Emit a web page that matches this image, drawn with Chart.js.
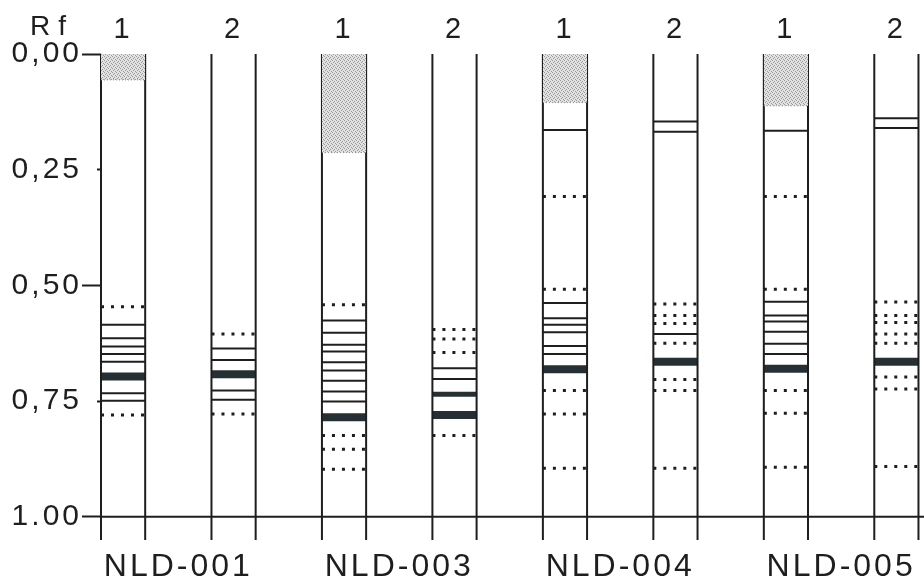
<!DOCTYPE html>
<html>
<head>
<meta charset="utf-8">
<title>TLC Rf</title>
<script src="https://cdn.jsdelivr.net/npm/chart.js@4.4.1/dist/chart.umd.min.js"></script>
<style>
  html, body { margin: 0; padding: 0; background: #fff; }
  canvas { display: block; }
</style>
</head>
<body>
<canvas id="plate-chart" width="924" height="584"></canvas>
<script>
const sampleNames = ["NLD-001", "NLD-003", "NLD-004", "NLD-005"];
const laneLabels = ["1", "2", "1", "2", "1", "2", "1", "2"];
const rfTicks = [0, 0.25, 0.5, 0.75, 1];
const rfTickLabels = ["0,00", "0,25", "0,50", "0,75", "1.00"];

// stippled origin spot, from the start line down to this Rf (null = none)
const spotEnds = [0.056, null, 0.213, null, 0.105, null, 0.112, null];

// bands per lane, by Rf
const thinBands = [
  [0.585, 0.614, 0.632, 0.648, 0.665, 0.733, 0.749],
  [0.636, 0.661, 0.727, 0.747],
  [0.576, 0.602, 0.628, 0.643, 0.666, 0.684, 0.706, 0.729, 0.751],
  [0.679, 0.702],
  [0.164, 0.538, 0.571, 0.585, 0.601, 0.631, 0.648],
  [0.146, 0.168, 0.605],
  [0.166, 0.535, 0.565, 0.578, 0.600, 0.626, 0.648],
  [0.139, 0.160]
];
const mediumBands = [[], [], [], [0.735], [], [], [], []];
const heavyBands = [
  [0.697], [0.692], [0.785], [0.780], [0.681], [0.665], [0.680], [0.665]
];
const faintBands = [
  [0.546, 0.780],
  [0.605, 0.778],
  [0.542, 0.824, 0.854, 0.897],
  [0.595, 0.616, 0.645, 0.824],
  [0.308, 0.508, 0.727, 0.778, 0.895],
  [0.540, 0.565, 0.582, 0.625, 0.703, 0.727, 0.895],
  [0.308, 0.508, 0.727, 0.776, 0.893],
  [0.536, 0.565, 0.580, 0.605, 0.625, 0.698, 0.724, 0.891]
];

const HALF = 0.2;       // half width of a lane, in lane units
const X_MIN = -0.2;
const X_MAX = 7.25;
const PLATE_END = 1.05; // lanes run a little past the solvent line
const INK = "#1e1e1e";
const SPOT_INK = "#263034";
const FONT = "Liberation Sans";

function stipple() {
  const c = document.createElement("canvas");
  c.width = 4;
  c.height = 4;
  const g = c.getContext("2d");
  g.fillStyle = "#e2e2e2";
  g.fillRect(0, 0, 4, 4);
  g.fillStyle = "#9a9a9a";
  g.fillRect(0, 0, 1, 1);
  g.fillRect(2, 1, 1, 1);
  g.fillRect(1, 2, 1, 1);
  g.fillRect(3, 3, 1, 1);
  return g.createPattern(c, "repeat");
}

function band(lane, rf, width, dash, color) {
  return {
    data: [{ x: lane - HALF, y: rf }, { x: lane + HALF, y: rf }],
    borderColor: color || INK,
    borderWidth: width,
    borderDash: dash || [],
    pointRadius: 0,
    fill: false,
    clip: false
  };
}

const datasets = [];
const pattern = stipple();

spotEnds.forEach((end, lane) => {
  if (end === null) return;
  datasets.push({
    data: [{ x: lane - HALF, y: end }, { x: lane + HALF, y: end }],
    borderColor: "#8a8a8a",
    borderWidth: 1,
    borderDash: [1, 2],
    backgroundColor: pattern,
    fill: { value: 0 },
    pointRadius: 0,
    clip: false
  });
});

laneLabels.forEach((_, lane) => {
  [lane - HALF, lane + HALF].forEach((x) => {
    datasets.push({
      data: [{ x: x, y: 0 }, { x: x, y: PLATE_END }],
      borderColor: INK,
      borderWidth: 2,
      pointRadius: 0,
      fill: false,
      clip: false
    });
  });
  thinBands[lane].forEach((rf) => datasets.push(band(lane, rf, 2)));
  mediumBands[lane].forEach((rf) => datasets.push(band(lane, rf, 5, [], SPOT_INK)));
  heavyBands[lane].forEach((rf) => datasets.push(band(lane, rf, 8, [], SPOT_INK)));
  faintBands[lane].forEach((rf) => datasets.push(band(lane, rf, 3, [3, 7])));
});

// solvent front
datasets.push({
  data: [{ x: X_MIN, y: 1 }, { x: X_MAX, y: 1 }],
  borderColor: INK,
  borderWidth: 2,
  pointRadius: 0,
  fill: false,
  clip: false
});

const spacedText = {
  id: "spacedText",
  beforeLayout(chart) { chart.ctx.letterSpacing = "3px"; },
  beforeDraw(chart) { chart.ctx.letterSpacing = "3px"; },
  afterDraw(chart) {
    const ctx = chart.ctx;
    ctx.save();
    ctx.letterSpacing = "8px";
    ctx.fillStyle = INK;
    ctx.font = "28px '" + FONT + "'";
    ctx.textBaseline = "middle";
    ctx.textAlign = "left";
    ctx.fillText("Rf", 30, 27);
    ctx.restore();
  }
};

new Chart(document.getElementById("plate-chart"), {
  type: "line",
  data: { datasets: datasets },
  plugins: [spacedText],
  options: {
    responsive: false,
    animation: false,
    layout: { padding: 0 },
    plugins: { legend: { display: false }, tooltip: { enabled: false } },
    scales: {
      x: {
        type: "linear",
        position: "bottom",
        min: X_MIN,
        max: X_MAX,
        grid: { display: false },
        border: { display: false },
        afterBuildTicks: (s) => { s.ticks = sampleNames.map((_, i) => ({ value: i * 2 + 0.5 })); },
        afterFit: (s) => { s.height = 44; },
        ticks: {
          autoSkip: false,
          maxRotation: 0,
          padding: 0,
          color: INK,
          font: { family: FONT, size: 32 },
          callback: (v, i) => sampleNames[i]
        }
      },
      xTop: {
        type: "linear",
        position: "top",
        min: X_MIN,
        max: X_MAX,
        grid: { display: false, drawTicks: false },
        border: { display: false },
        afterBuildTicks: (s) => { s.ticks = laneLabels.map((_, i) => ({ value: i })); },
        afterFit: (s) => { s.height = 54; },
        ticks: {
          autoSkip: false,
          maxRotation: 0,
          padding: 7,
          color: INK,
          font: { family: FONT, size: 29 },
          callback: (v, i) => laneLabels[i]
        }
      },
      y: {
        type: "linear",
        reverse: true,
        min: 0,
        max: PLATE_END,
        border: { display: false },
        afterBuildTicks: (s) => { s.ticks = rfTicks.map((v) => ({ value: v })); },
        afterFit: (s) => { s.width = 101; },
        grid: {
          drawOnChartArea: false,
          tickLength: 19,
          tickWidth: 2,
          tickColor: INK,
          tickBorderDash: (ctx) => (ctx.index % 2 === 1 ? [0, 15, 4, 40] : [])
        },
        ticks: {
          padding: 0,
          color: INK,
          font: { family: FONT, size: 30 },
          callback: (v, i) => rfTickLabels[i]
        }
      }
    }
  }
});
</script>
</body>
</html>
